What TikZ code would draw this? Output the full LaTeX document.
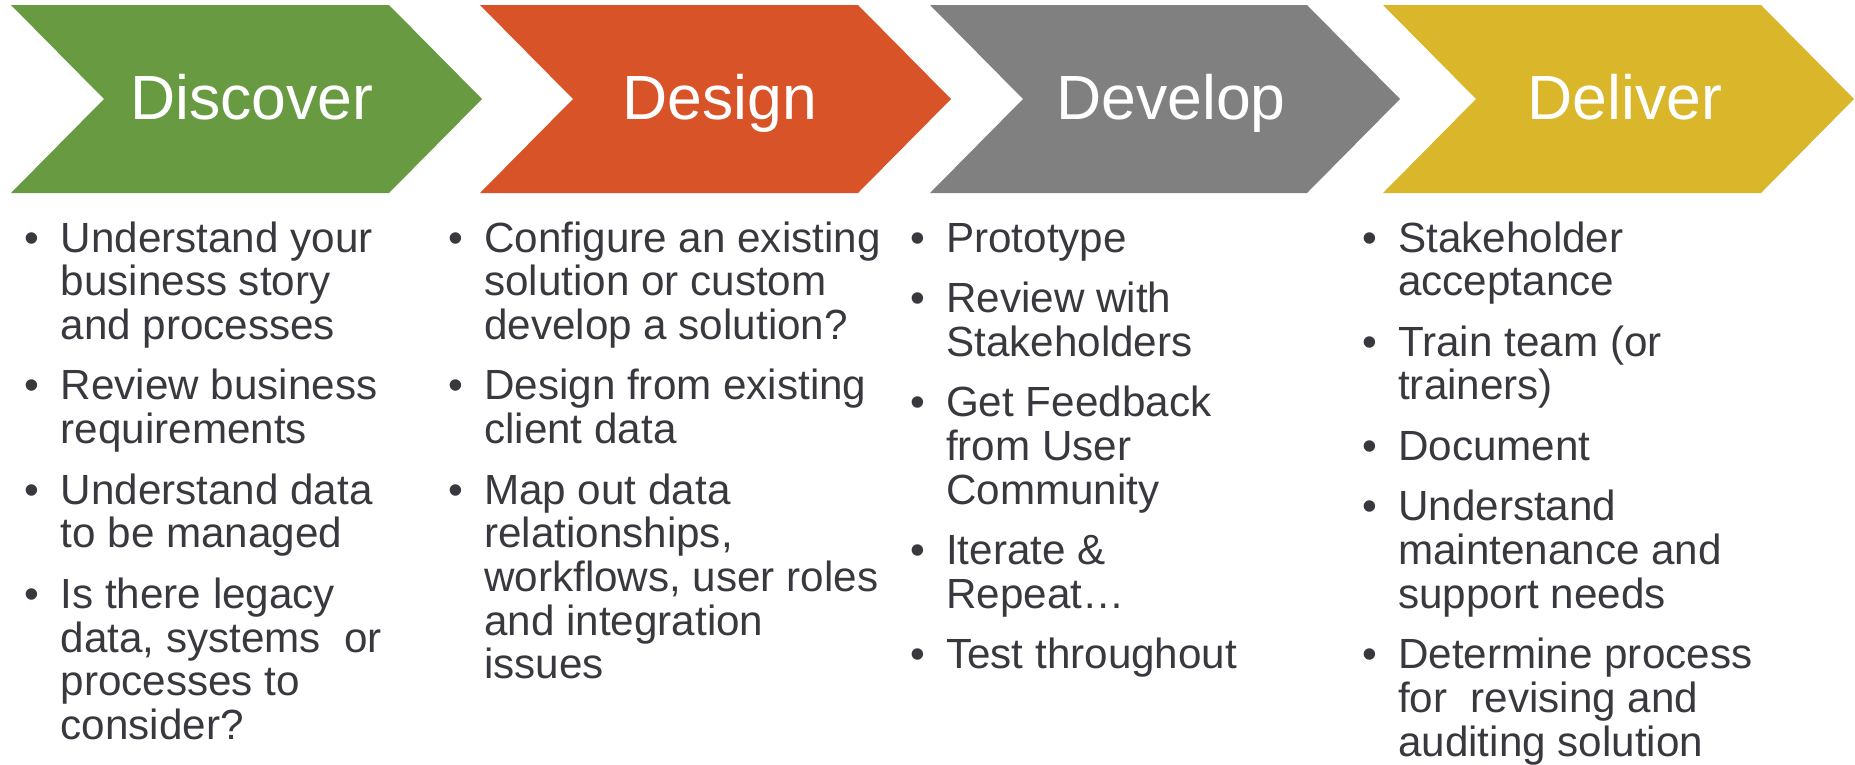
\documentclass[tikz,border=0pt]{standalone}
\usepackage{fontspec}
\setmainfont{Liberation Sans}
\usepackage{tikz}

\definecolor{discgreen}{RGB}{103,154,65}
\definecolor{desorange}{RGB}{216,84,40}
\definecolor{devgray}{RGB}{128,128,128}
\definecolor{delgold}{RGB}{217,182,42}
\definecolor{listgray}{RGB}{56,56,62}

\newcommand{\itm}{\makebox[36pt][l]{\textbullet}}

\begin{document}
\begin{tikzpicture}[x=1pt, y=-1pt,
  title/.style={anchor=base, inner sep=0pt, text=white, font=\fontsize{62.5}{70}\selectfont},
  list/.style={anchor=base west, inner sep=0pt, text=listgray, font=\fontsize{42.2}{43.5}\selectfont}]
\useasboundingbox (0,0) rectangle (1855,764);

% Define chevrons
\fill[discgreen] (11,5) -- (389,5) -- (482,99) -- (389,193) -- (11,193) -- (104,99) -- cycle;
\fill[desorange] (480,5) -- (858,5) -- (951,99) -- (858,193) -- (480,193) -- (573,99) -- cycle;
\fill[devgray] (930,5) -- (1307,5) -- (1400,99) -- (1307,193) -- (930,193) -- (1023,99) -- cycle;
\fill[delgold] (1383,5) -- (1761,5) -- (1854,99) -- (1761,193) -- (1383,193) -- (1476,99) -- cycle;

% Add titles
\node[title] (discover) at (252,119) {Discover};
\node[title] (design) at (720,119) {Design};
\node[title] (develop) at (1171,119) {Develop};
\node[title] (deliver) at (1625,119) {Deliver};

% Add bullet lists
\node[list] (discover-list) at (24.5,252) {\begin{tabular}[t]{@{}l@{}l@{}}
\itm & Understand your\\ & business story\\ & and processes\\[17pt]
\itm & Review business\\ & requirements\\[17pt]
\itm & Understand data\\ & to be managed\\[17pt]
\itm & Is there legacy\\ & data, systems~ or\\ & processes to\\ & consider?
\end{tabular}};
\node[list] (design-list) at (448,252) {\begin{tabular}[t]{@{}l@{}l@{}}
\itm & Configure an existing\\ & solution or custom\\ & develop a solution?\\[17pt]
\itm & Design from existing\\ & client data\\[17pt]
\itm & Map out data\\ & relationships,\\ & workflows, user roles\\ & and integration\\ & issues
\end{tabular}};
\node[list] (develop-list) at (910,252) {\begin{tabular}[t]{@{}l@{}l@{}}
\itm & Prototype\\[17pt]
\itm & Review with\\ & Stakeholders\\[17pt]
\itm & Get Feedback\\ & from User\\ & Community\\[17pt]
\itm & Iterate \&\\ & Repeat…\\[17pt]
\itm & Test throughout
\end{tabular}};
\node[list] (deliver-list) at (1362,252) {\begin{tabular}[t]{@{}l@{}l@{}}
\itm & Stakeholder\\ & acceptance\\[17pt]
\itm & Train team (or\\ & trainers)\\[17pt]
\itm & Document\\[17pt]
\itm & Understand\\ & maintenance and\\ & support needs\\[17pt]
\itm & Determine process\\ & for~ revising and\\ & auditing solution
\end{tabular}};

\end{tikzpicture}
\end{document}
